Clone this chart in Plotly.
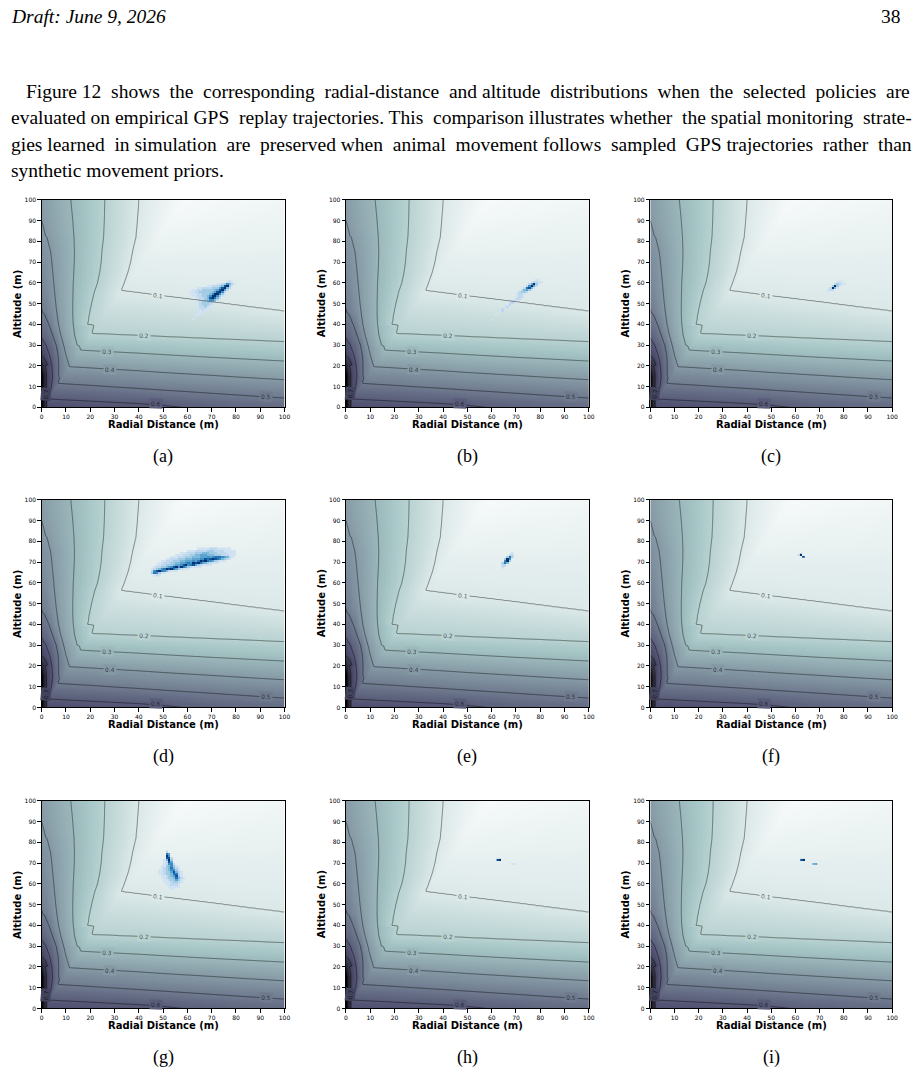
import numpy as np
import plotly.graph_objects as go

PAGE_W, PAGE_H = 916, 1075

# ---------------- background field ----------------
# lower (altitude-driven) branch: altitude (m) at which each level is crossed, per radial distance
alt_nodes_x = [0, 10, 20, 30, 40, 50, 70, 85, 100]
alt_value_ground = [0.653, 0.647, 0.640, 0.632, 0.625, 0.613, 0.579, 0.564, 0.551]
alt_value_top = [0.02, 0.02, 0.02, 0.02, 0.02, 0.02, 0.03, 0.035, 0.04]
alt_y_06 = [4.2, 3.6, 3.0, 2.4, 1.8, 1.0, None, None, None]
alt_y_05 = [12.1, 11.3, 10.6, 9.8, 9.1, 8.3, 6.8, 5.6, 4.5]
alt_y_04 = [20.4, 19.7, 19.0, 18.3, 17.6, 16.8, 15.4, 14.3, 13.3]
alt_y_03 = [28.6, 28.0, 27.3, 26.7, 26.1, 25.4, 24.1, 23.2, 22.3]
alt_y_02 = [36.6, 36.1, 35.6, 35.1, 34.6, 34.1, 33.1, 32.4, 31.6]
alt_y_01 = [61.2, 59.7, 58.2, 56.7, 55.2, 53.7, 50.8, 48.5, 46.3]

# upper (radial-driven) branch: radial distance (m) at which each level is crossed, per altitude
rad_nodes_y = [0, 5, 10, 15, 20, 25, 30, 35, 40, 45, 50, 56, 60, 65, 70, 75, 82, 90, 100]
rad_value_edge = [1.0, 1.0, 1.0, 1.0, 0.85, 0.70, 0.64, 0.58, 0.54, 0.51, 0.49, 0.47, 0.46,
                  0.45, 0.44, 0.43, 0.415, 0.40, 0.39]
N = None
rad_x_07 = [2.0, 2.0, 2.0, 2.0, 1.4, N, N, N, N, N, N, N, N, N, N, N, N, N, N]
rad_x_06 = [N, 2.7, 4.0, 4.5, 4.2, 3.3, 1.8, N, N, N, N, N, N, N, N, N, N, N, N]
rad_x_05 = [N, N, N, 7.0, 7.0, 6.8, 6.0, 4.5, 3.0, 1.2, N, N, N, N, N, N, N, N, N]
rad_x_04 = [N, N, N, N, 11.3, 10.0, 9.0, 7.8, 6.9, 6.3, 5.8, 5.3, 5.0, 4.6, 4.2, 3.7, 2.2, N, N]
rad_x_03 = [N, N, N, N, N, N, 14.6, 13.5, 13.0, 12.8, 12.8, 12.9, 13.0, 13.2, 13.4, 13.5, 13.3, 12.8, 12.0]
rad_x_02 = [N, N, N, N, N, N, N, N, 18.9, 19.6, 20.5, 21.8, 23.0, 23.9, 24.5, 24.8, 25.5, 25.8, 26.0]
rad_x_01 = [N, N, N, N, N, N, N, N, N, N, N, N, 34.0, 35.5, 36.6, 37.4, 38.8, 39.4, 40.0]

corner_slope = 1.72
corner_min_x = 2.5

# contour labels as printed in the reference: level, radial distance, altitude, text angle
contour_label_levels = [0.1, 0.2, 0.3, 0.4, 0.5, 0.6, 0.7]
contour_label_x = [48, 42, 27, 28, 92.5, 47, 1.9]
contour_label_y = [54.0, 34.5, 26.9, 18.4, 5.05, 2.0, 6.5]
contour_label_angle = [7, 2.5, 3, 3.5, 3.7, 3, -85]

# ---------------- occupancy histograms (1 m cells, 1 = faint ... 9 = darkest) ----------------
# rows: (altitude, first radial distance, intensities)
blob_a = [(60, 76, "121"), (59, 72, "11236421"), (58, 68, "11222348931"),
          (57, 64, "11222233358942"), (56, 62, "112233333458952"), (55, 61, "112233333458962"),
          (54, 61, "111223334699631"), (53, 62, "1122334699631"), (52, 63, "11223489742"),
          (51, 64, "122346642"), (50, 64, "12333332"), (49, 64, "1233321"), (48, 64, "122321"),
          (47, 64, "12221"), (46, 64, "1121"), (45, 64, "111"), (44, 63, "11"), (42, 62, "1")]
blob_b = [(61, 78, "11"), (60, 76, "12211"), (59, 75, "25931"), (58, 74, "26952"),
          (57, 73, "27841"), (56, 72, "24531"), (55, 71, "2332"), (54, 70, "1221"),
          (53, 70, "122"), (52, 69, "122"), (51, 68, "22"), (50, 67, "22"), (49, 66, "12"),
          (48, 65, "12"), (47, 64, "2"), (46, 63, "12"), (45, 62, "1"), (44, 61, "1"), (42, 60, "1")]
blob_c = [(60, 77, "111"), (59, 76, "23211"), (58, 75, "3931"), (57, 74, "2941"),
          (56, 73, "122"), (55, 73, "1")]
blob_d = [(76, 64, "11111222111111"), (75, 60, "11122222333222211111"),
          (74, 57, "11122233344433322221111"), (73, 55, "1112223344555444333222111"),
          (72, 53, "11122233344455565677765421"), (71, 51, "112223334445556687898764321"),
          (70, 49, "112223334455565798976532111"), (69, 48, "1122233445567698975432111"),
          (68, 47, "11223334556896785321111"), (67, 46, "12233456896975321111"),
          (66, 45, "1234679897532111"), (65, 45, "26897642111"), (64, 45, "376311"),
          (63, 46, "121")]
blob_e = [(74, 68, "1"), (73, 67, "22"), (72, 66, "373"), (71, 65, "396"), (70, 65, "693"),
          (69, 64, "374"), (68, 64, "22"), (67, 64, "1")]
blob_f = [(73, 61, "29"), (72, 63, "8")]
blob_g = [(75, 51, "2"), (74, 51, "75"), (73, 51, "96"), (72, 51, "882"), (71, 50, "1493"),
          (70, 50, "1285"), (69, 50, "12662"), (68, 49, "1134631"), (67, 49, "12347421"),
          (66, 48, "112346631"), (65, 48, "1123358421"), (64, 48, "1123347721"),
          (63, 49, "112345831"), (62, 49, "1123347421"), (61, 50, "11233531"),
          (60, 50, "11123321"), (59, 51, "112221"), (58, 52, "11111"), (57, 53, "11")]
blob_h = [(71, 62, "89"), (69, 68, "11")]
blob_i = [(71, 62, "89"), (69, 67, "45")]
blobs = [blob_a, blob_b, blob_c, blob_d, blob_e, blob_f, blob_g, blob_h, blob_i]
captions = ["(a)", "(b)", "(c)", "(d)", "(e)", "(f)", "(g)", "(h)", "(i)"]

tick_values = list(range(0, 101, 10))
x_title = "Radial Distance (m)"
y_title = "Altitude (m)"

header_left = "Draft: June 9, 2026"
header_right = "38"
paragraph_lines = [
    "Figure 12 shows the corresponding radial-distance and altitude distributions when the selected policies are",
    "evaluated on empirical GPS replay trajectories. This comparison illustrates whether the spatial monitoring strate-",
    "gies learned in simulation are preserved when animal movement follows sampled GPS trajectories rather than",
    "synthetic movement priors.",
]

# ---------------- build the field table ----------------
alt_levels = [(0.6, alt_y_06), (0.5, alt_y_05), (0.4, alt_y_04), (0.3, alt_y_03),
              (0.2, alt_y_02), (0.1, alt_y_01)]
rad_levels = [(0.7, rad_x_07), (0.6, rad_x_06), (0.5, rad_x_05), (0.4, rad_x_04),
              (0.3, rad_x_03), (0.2, rad_x_02), (0.1, rad_x_01)]


def level_position(v, nodes, arr):
    ok_n = [nodes[k] for k in range(len(arr)) if arr[k] is not None]
    ok_v = [arr[k] for k in range(len(arr)) if arr[k] is not None]
    if not ok_n or v < ok_n[0] or v > ok_n[-1]:
        return None
    return float(np.interp(v, ok_n, ok_v))


gx = np.linspace(0, 100, 201)
gy = np.linspace(0, 100, 201)

lower = np.zeros((len(gy), len(gx)))
for j, xv in enumerate(gx):
    py = [0.0]
    pv = [float(np.interp(xv, alt_nodes_x, alt_value_ground))]
    for lev, arr in alt_levels:
        yc = level_position(xv, alt_nodes_x, arr)
        if yc is not None and yc > py[-1] and lev < pv[-1]:
            py.append(yc); pv.append(lev)
    py.append(100.0); pv.append(float(np.interp(xv, alt_nodes_x, alt_value_top)))
    lower[:, j] = np.interp(gy, py, pv)

field = lower.copy()
for i, yv in enumerate(gy):
    xl = max(yv / corner_slope, corner_min_x)
    l_at = float(np.interp(xl, gx, lower[i]))
    px = [0.0]
    pv = [float(np.interp(yv, rad_nodes_y, rad_value_edge))]
    for lev, arr in rad_levels:
        xc = level_position(yv, rad_nodes_y, arr)
        if xc is not None and l_at < lev < pv[-1] and px[-1] < xc < xl:
            px.append(xc); pv.append(lev)
    px.append(xl); pv.append(l_at)
    m = gx < xl
    field[i, m] = np.interp(gx[m], px, pv)
field = np.round(field, 4)


def blob_table(rows):
    cells = {}
    for yv, x0, s in rows:
        for k, ch in enumerate(s):
            if ch != "0":
                cells[(x0 + k, yv)] = int(ch)
    xs = [c[0] for c in cells]
    ys = [c[1] for c in cells]
    bx = list(range(min(xs), max(xs) + 1))
    by = list(range(min(ys), max(ys) + 1))
    z = [[cells.get((xx, yy)) for xx in bx] for yy in by]
    return [v + 0.5 for v in bx], [v + 0.5 for v in by], z


bone_stops = [(0.0, (255, 255, 255)), (0.254, (166, 198, 198)), (0.635, (81, 81, 113)), (1.0, (0, 0, 0))]
bone_r = [[s, "rgb(%d,%d,%d)" % c] for s, c in bone_stops]


def bone_color(v):
    for (s0, c0), (s1, c1) in zip(bone_stops[:-1], bone_stops[1:]):
        if s0 <= v <= s1:
            t = (v - s0) / (s1 - s0)
            return "rgb(%d,%d,%d)" % tuple(round(a + t * (b - a)) for a, b in zip(c0, c1))
    return "rgb(0,0,0)"


blues = [[0.0, "rgb(222,235,247)"], [0.2, "rgb(198,219,239)"], [0.35, "rgb(158,202,225)"],
         [0.5, "rgb(107,174,214)"], [0.65, "rgb(66,146,198)"], [0.8, "rgb(33,113,181)"],
         [0.9, "rgb(8,81,156)"], [1.0, "rgb(8,48,107)"]]

panel_cols = [(40, 285), (347, 592), (654, 898)]
panel_rows = [(197, 406), (499, 708), (802, 1011)]

fig = go.Figure()
layout = dict(width=PAGE_W, height=PAGE_H, margin=dict(l=0, r=0, t=0, b=0),
              paper_bgcolor="white", plot_bgcolor="white", showlegend=False)
annotations = []


def px2x(v):
    return v / PAGE_W


def px2y(v):
    return 1 - v / PAGE_H


axis_common = dict(range=[0, 100], tickmode="array", tickvals=tick_values,
                   ticktext=[str(t) for t in tick_values], ticks="outside", ticklen=3.5,
                   tickwidth=0.8, tickcolor="black", showline=True, mirror=True,
                   linecolor="black", linewidth=0.8, showgrid=False, zeroline=False,
                   fixedrange=True, tickfont=dict(family="DejaVu Sans", size=6, color="black"))

field_list = field.tolist()
for p in range(9):
    r, c = divmod(p, 3)
    x0, x1 = panel_cols[c]
    y0, y1 = panel_rows[r]
    sfx = "" if p == 0 else str(p + 1)
    layout["xaxis" + sfx] = dict(axis_common, domain=[px2x(x0), px2x(x1)], anchor="y" + sfx)
    layout["yaxis" + sfx] = dict(axis_common, domain=[px2y(y1), px2y(y0)], anchor="x" + sfx)

    fig.add_trace(go.Heatmap(x=gx, y=gy, z=field_list, zmin=0, zmax=1, colorscale=bone_r,
                             showscale=False, zsmooth="best", hoverinfo="skip",
                             xaxis="x" + sfx, yaxis="y" + sfx))
    bx, by, bz = blob_table(blobs[p])
    fig.add_trace(go.Heatmap(x=bx, y=by, z=bz, zmin=0, zmax=9, colorscale=blues,
                             showscale=False, zsmooth=False, hoverinfo="skip",
                             xaxis="x" + sfx, yaxis="y" + sfx))
    fig.add_trace(go.Contour(
        x=gx, y=gy, z=field_list, showscale=False,
        contours=dict(start=0.1, end=0.7, size=0.1, coloring="none", showlabels=False),
        line=dict(color="rgba(0,0,0,0.55)", width=0.8, smoothing=0.3),
        hoverinfo="skip", xaxis="x" + sfx, yaxis="y" + sfx))

    for lev, lx, ly, la in zip(contour_label_levels, contour_label_x, contour_label_y,
                               contour_label_angle):
        annotations.append(dict(text="%.1f" % lev, x=lx, y=ly, xref="x" + sfx, yref="y" + sfx,
                                showarrow=False, textangle=la, xanchor="center", yanchor="middle",
                                bgcolor=bone_color(lev), borderpad=1,
                                font=dict(family="DejaVu Sans", size=6, color="rgba(0,0,0,0.65)")))

    annotations.append(dict(text="<b>" + x_title + "</b>", x=px2x((x0 + x1) / 2), y=px2y(y1 + 17),
                            xref="paper", yref="paper", showarrow=False, xanchor="center",
                            yanchor="middle", font=dict(family="DejaVu Sans", size=10, color="black")))
    annotations.append(dict(text="<b>" + y_title + "</b>", x=px2x(x0 - 24.5), y=px2y((y0 + y1) / 2),
                            xref="paper", yref="paper", showarrow=False, textangle=-90,
                            xanchor="center", yanchor="middle",
                            font=dict(family="DejaVu Sans", size=10, color="black")))
    annotations.append(dict(text=captions[p], x=px2x((x0 + x1) / 2), y=px2y(y1 + 49),
                            xref="paper", yref="paper", showarrow=False, xanchor="center",
                            yanchor="middle", font=dict(family="Liberation Serif", size=18, color="black")))

# justified paragraph: extra non-breaking spaces spread over the word gaps of each line
line_extra_spaces = [11, 4, 9, 0]


def justify(txt, extra):
    words = txt.split(" ")
    gaps = len(words) - 1
    out = words[0]
    for g in range(gaps):
        add = (g + 1) * extra // gaps - g * extra // gaps
        out += " " + "\u00a0" * add + words[g + 1]
    return out


serif = dict(family="Liberation Serif", size=19.5, color="black")
annotations.append(dict(text="<i>" + header_left + "</i>", x=px2x(7), y=px2y(13), xref="paper",
                        yref="paper", showarrow=False, xanchor="left", yanchor="middle", font=serif))
annotations.append(dict(text=header_right, x=px2x(909), y=px2y(13), xref="paper", yref="paper",
                        showarrow=False, xanchor="right", yanchor="middle", font=serif))
line_y = [88, 114.5, 141, 167.5]
line_x = [22, 7, 7, 7]
for k, txt in enumerate(paragraph_lines):
    annotations.append(dict(text=justify(txt, line_extra_spaces[k]), x=px2x(line_x[k]),
                            y=px2y(line_y[k]), xref="paper", yref="paper", showarrow=False,
                            xanchor="left", yanchor="middle", font=serif))

layout["annotations"] = annotations
fig.update_layout(**layout)
fig.write_html("out.html")
